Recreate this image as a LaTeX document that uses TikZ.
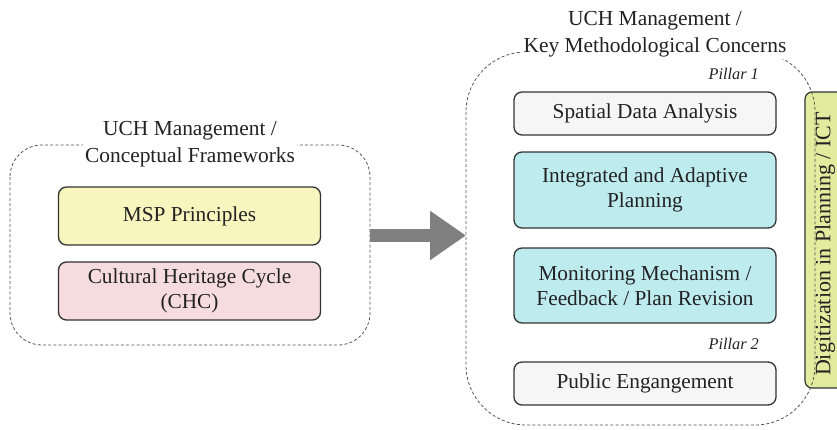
\documentclass[tikz,border=0pt]{standalone}
\usepackage{fontspec}
\setmainfont{Liberation Serif}
\usetikzlibrary{arrows.meta}
\definecolor{txt}{HTML}{222222}
\definecolor{bord}{HTML}{333333}
\definecolor{dashc}{HTML}{555555}
\definecolor{mspfill}{HTML}{F8F5BE}
\definecolor{chcfill}{HTML}{F6DCDF}
\definecolor{cyanfill}{HTML}{BEEBEE}
\definecolor{greyfill}{HTML}{F6F6F6}
\definecolor{greenfill}{HTML}{E1EC9E}
\definecolor{arrowc}{HTML}{808080}
\tikzset{
  box/.style={draw=bord, line width=1.3pt, rounded corners=8pt, minimum width=262pt,
    align=center, text=txt, font=\fontsize{21.3}{25}\selectfont, inner sep=0pt},
  groupbox/.style={draw=dashc, dashed, dash pattern=on 3pt off 2.2pt, line width=0.8pt},
  title/.style={fill=white, align=center, text=txt, font=\fontsize{21.4}{27}\selectfont, inner sep=2pt},
  pillar/.style={text=txt, font=\fontsize{16.3}{18}\selectfont\itshape, inner sep=0pt},
}
\begin{document}
\begin{tikzpicture}[x=1pt,y=-1pt]
\useasboundingbox (0,0) rectangle (837,429);
\clip (0,0) rectangle (837,429);
\fill[white] (0,0) rectangle (837,429);

% green side bar
\node[draw=bord, line width=1.2pt, fill=greenfill, rounded corners=7pt,
  minimum width=296pt, minimum height=42pt, rotate=90, inner sep=0pt] (ict) at (826,240) {};
\node[rotate=90, text=txt, font=\fontsize{22}{25}\selectfont, inner sep=0pt] (ictlabel) at (825,244) {Digitization in Planning / ICT};

% left group
\draw[groupbox] (10,145) [rounded corners=32pt] -- (10,345) -- (370,345) -- (370,145) -- cycle;
\node[title] (lt) at (190,144) {UCH Management /\\Conceptual Frameworks};

\node[box, fill=mspfill, minimum height=58pt] (msp) at (189.5,216) {MSP Principles};
\node[box, fill=chcfill, minimum height=58pt] (chc) at (189.5,291) {Cultural Heritage Cycle\\(CHC)};

% right group
\draw[groupbox] (466,52) [rounded corners=60pt] -- (466,425) -- (815,425) -- (815,52) -- cycle;
\node[title] (rt) at (655,34) {UCH Management /\\Key Methodological Concerns};

\node[pillar, anchor=east] (p1) at (759,74) {Pillar 1};
\node[box, fill=greyfill, minimum height=43pt] (sda) at (645,113.5) {Spatial Data Analysis};
\node[box, fill=cyanfill, minimum height=76pt] (iap) at (645,190) {Integrated and Adaptive\\Planning};
\node[box, fill=cyanfill, minimum height=75pt] (mon) at (645,285.5) {Monitoring Mechanism /\\Feedback / Plan Revision};
\node[pillar, anchor=east] (p2) at (759,344) {Pillar 2};
\node[box, fill=greyfill, minimum height=43pt] (pe) at (645,383.5) {Public Engangement};

% big arrow
\coordinate (as) at (370,235.5);
\coordinate (ae) at (466,235.5);
\draw[arrowc, line width=12.5pt, -{Triangle[length=36pt, width=47pt]}] (as) -- (ae);
\end{tikzpicture}
\end{document}
